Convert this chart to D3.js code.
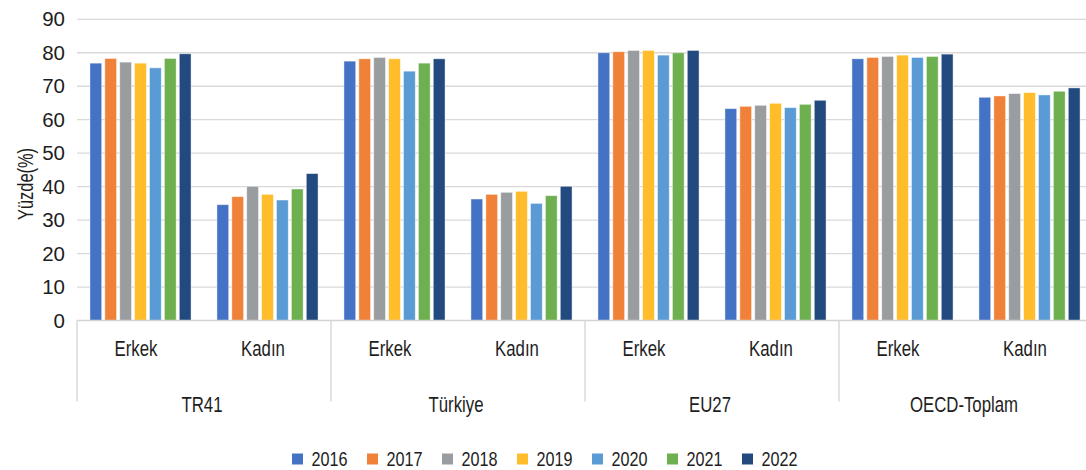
<!DOCTYPE html>
<html>
<head>
<meta charset="utf-8">
<script src="https://cdn.jsdelivr.net/npm/d3@7"></script>
<style>
  html, body { margin: 0; padding: 0; background: #fff; }
  svg text { font-family: "Liberation Sans", Arial, sans-serif; fill: #1e1e1e; }
</style>
</head>
<body>
<svg id="chart" width="1086" height="470"></svg>
<script>
// Regions and gender categories (two-level x axis)
const regions = ["TR41", "Türkiye", "EU27", "OECD-Toplam"];
const genders = ["Erkek", "Kadın"];
const years = ["2016", "2017", "2018", "2019", "2020", "2021", "2022"];
const yTicks = [0, 10, 20, 30, 40, 50, 60, 70, 80, 90];
const yTitle = "Yüzde(%)";

// Values per year, region by region: Erkek then Kadın
const tr41Erkek   = [76.9, 78.3, 77.2, 76.9, 75.5, 78.3, 79.7];
const tr41Kadin   = [34.6, 37.0, 40.1, 37.7, 36.0, 39.3, 43.9];
const trErkek     = [77.5, 78.2, 78.6, 78.2, 74.5, 76.9, 78.2];
const trKadin     = [36.3, 37.7, 38.3, 38.6, 35.0, 37.3, 40.1];
const eu27Erkek   = [80.0, 80.3, 80.7, 80.7, 79.3, 80.0, 80.7];
const eu27Kadin   = [63.3, 64.0, 64.3, 64.9, 63.6, 64.6, 65.8];
const oecdErkek   = [78.2, 78.6, 78.9, 79.3, 78.6, 78.9, 79.6];
const oecdKadin   = [66.7, 67.1, 67.8, 68.1, 67.4, 68.5, 69.5];

const seriesByRegion = {
  "TR41":        [tr41Erkek, tr41Kadin],
  "Türkiye":     [trErkek, trKadin],
  "EU27":        [eu27Erkek, eu27Kadin],
  "OECD-Toplam": [oecdErkek, oecdKadin]
};

const yearColors = ["#4472c4", "#ef8139", "#9a9d9f", "#ffbd2b", "#5a9bd5", "#6eb050", "#224a7e"];

// Flatten into category rows
const categories = [];
regions.forEach(r => genders.forEach((g, gi) => {
  categories.push({ key: r + "|" + g, region: r, gender: g, values: seriesByRegion[r][gi] });
}));

const svg = d3.select("#chart");
const plotLeft = 77, plotRight = 1093, plotTop = 19.3, plotBottom = 320.5;
const labelSize = "21.5px";
const narrow = 0.78; // horizontal squeeze for a condensed label face

const y = d3.scaleLinear().domain([0, 90]).range([plotBottom, plotTop]);
const x0 = d3.scaleBand().domain(categories.map(d => d.key)).range([plotLeft, plotRight]).padding(0);
const bw = x0.bandwidth();
const x1 = d3.scaleBand().domain(years).range([bw * 0.102, bw * 0.898]).paddingInner(0.21).paddingOuter(0);
const xr = d3.scaleBand().domain(regions).range([plotLeft, plotRight]).padding(0);
const color = d3.scaleOrdinal().domain(years).range(yearColors);

// Gridlines
svg.append("g")
  .selectAll("line")
  .data(yTicks.filter(t => t > 0))
  .join("line")
  .attr("x1", plotLeft).attr("x2", plotRight)
  .attr("y1", d => y(d)).attr("y2", d => y(d))
  .attr("stroke", "#d9d9d9").attr("stroke-width", 1.3);

// Y axis labels
const yAxis = d3.axisLeft(y).tickValues(yTicks).tickSize(0).tickPadding(12);
const yg = svg.append("g").attr("transform", `translate(${plotLeft},0)`).call(yAxis);
yg.select(".domain").remove();
yg.selectAll("text").style("font-size", "20.5px").attr("font-family", null);

// Bars
const groups = svg.append("g")
  .selectAll("g")
  .data(categories)
  .join("g")
  .attr("transform", d => `translate(${x0(d.key)},0)`);

groups.selectAll("rect")
  .data(d => d.values.map((v, i) => ({ year: years[i], value: v })))
  .join("rect")
  .attr("x", d => x1(d.year))
  .attr("width", x1.bandwidth())
  .attr("y", d => y(d.value))
  .attr("height", d => y(0) - y(d.value))
  .attr("fill", d => color(d.year))
  .attr("stroke", "#ffffff")
  .attr("stroke-opacity", 0.55)
  .attr("stroke-width", 0.8);

// Baseline
svg.append("line")
  .attr("x1", plotLeft).attr("x2", plotRight)
  .attr("y1", plotBottom).attr("y2", plotBottom)
  .attr("stroke", "#d4d4d4").attr("stroke-width", 1.5);

// Region separators
svg.append("g")
  .selectAll("line")
  .data(regions)
  .join("line")
  .attr("x1", d => xr(d)).attr("x2", d => xr(d))
  .attr("y1", plotBottom).attr("y2", 401.5)
  .attr("stroke", "#d4d4d4").attr("stroke-width", 1.3);

// Gender labels
svg.append("g")
  .selectAll("text")
  .data(categories)
  .join("text")
  .attr("transform", d => `translate(${x0(d.key) + bw / 2 - 4.5},356) scale(${narrow},1)`)
  .attr("text-anchor", "middle")
  .style("font-size", labelSize)
  .text(d => d.gender);

// Region labels
svg.append("g")
  .selectAll("text")
  .data(regions)
  .join("text")
  .attr("transform", d => `translate(${xr(d) + xr.bandwidth() / 2 - 2},411.5) scale(${narrow},1)`)
  .attr("text-anchor", "middle")
  .style("font-size", labelSize)
  .text(d => d);

// Y axis title
svg.append("text")
  .attr("transform", `translate(33,184) rotate(-90) scale(0.765,1)`)
  .attr("text-anchor", "middle")
  .style("font-size", labelSize)
  .text(yTitle);

// Legend
const legend = svg.append("g").attr("transform", "translate(292,0)");
const items = legend.selectAll("g")
  .data(years)
  .join("g")
  .attr("transform", (d, i) => `translate(${i * 75},0)`);
items.append("rect")
  .attr("x", 0).attr("y", 453.5)
  .attr("width", 11).attr("height", 11)
  .attr("fill", d => color(d));
items.append("text")
  .attr("transform", "translate(19.5,466) scale(0.79,1)")
  .style("font-size", "20.5px")
  .text(d => d);
</script>
</body>
</html>
